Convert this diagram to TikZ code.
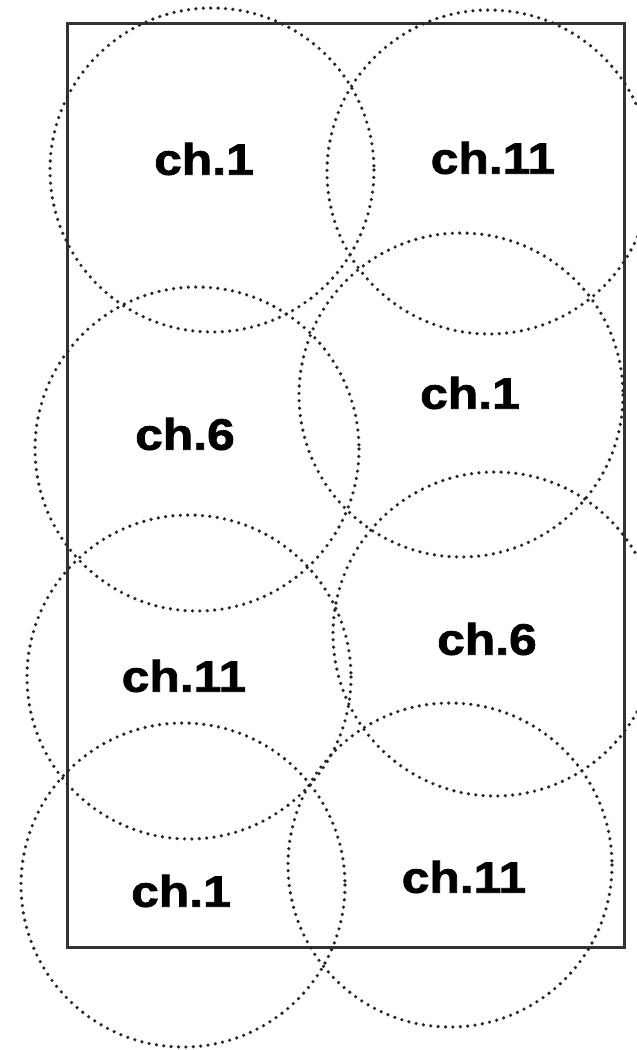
\documentclass[tikz,border=0pt]{standalone}
\usepackage{fontspec}
\setmainfont{Liberation Sans}
\newfontfamily\lblfont[FakeBold=1.6]{Liberation Sans Bold}
\begin{document}
\begin{tikzpicture}[x=1pt,y=-1pt,
  cell/.style={draw=black!85, line width=3.6pt, line cap=round, dash pattern=on 0pt off 7.4pt},
  lbl/.style={font=\fontsize{44}{44}\lblfont, inner sep=0pt, anchor=center, xscale=1.13},
  area/.style={draw=black!80, line width=3pt}]
\useasboundingbox (0,0) rectangle (637,1050);
\fill[white] (0,0) rectangle (637,1050);
\node[area, minimum width=557pt, minimum height=924pt, inner sep=0pt] (room) at (345.5,485) {};
\draw[cell] (212,170) circle[radius=162];
\draw[cell] (489,172) circle[radius=162];
\draw[cell] (197,449) circle[radius=162];
\draw[cell] (461,395) circle[radius=162];
\draw[cell] (189,677) circle[radius=162];
\draw[cell] (495,634) circle[radius=162];
\draw[cell] (183,885) circle[radius=162];
\draw[cell] (450,865) circle[radius=162];
\node[lbl] (a1) at (204,159) {ch.1};
\node[lbl] (a2) at (493,158) {ch.11};
\node[lbl] (a3) at (185,434) {ch.6};
\node[lbl] (a4) at (470,393) {ch.1};
\node[lbl] (a5) at (184,676) {ch.11};
\node[lbl] (a6) at (487,639) {ch.6};
\node[lbl] (a7) at (181,891) {ch.1};
\node[lbl] (a8) at (464,877) {ch.11};
\end{tikzpicture}
\end{document}
